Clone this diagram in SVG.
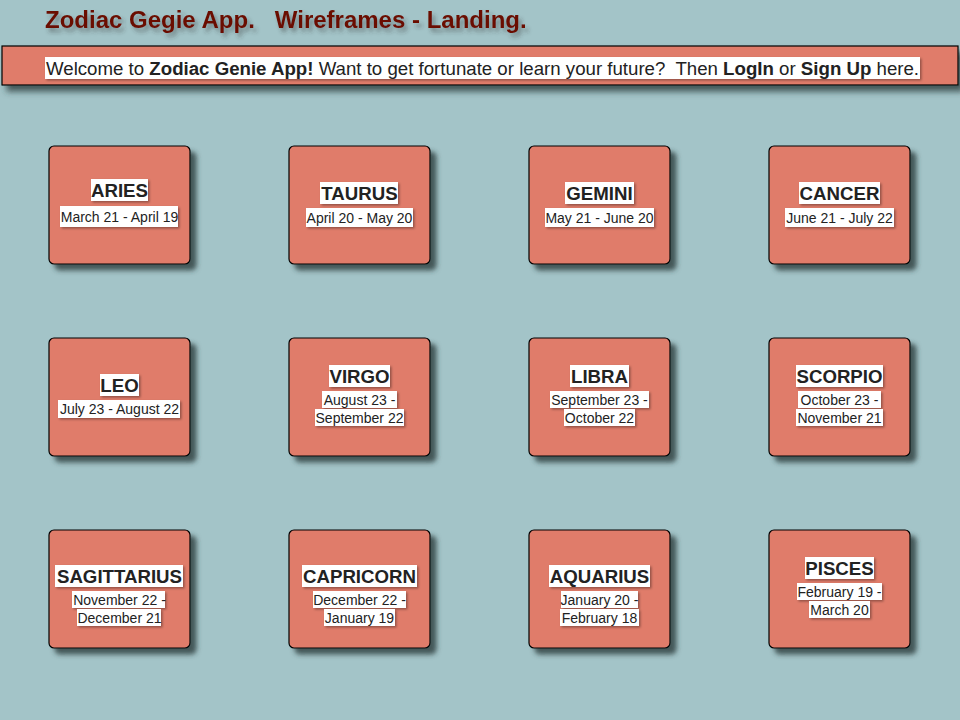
<svg xmlns="http://www.w3.org/2000/svg" width="960" height="720" viewBox="0 0 960 720">
<defs>
<filter id="sh" x="-10%" y="-10%" width="130%" height="130%"><feDropShadow dx="6" dy="6" stdDeviation="2.5" flood-color="#2c3a3b" flood-opacity="0.8"/></filter>
<filter id="shb" x="-5%" y="-30%" width="110%" height="190%"><feDropShadow dx="5" dy="6" stdDeviation="3" flood-color="#2c3a3b" flood-opacity="0.8"/></filter>
<filter id="lsh" x="-10%" y="-20%" width="130%" height="150%"><feDropShadow dx="1.5" dy="1.5" stdDeviation="1" flood-color="#000" flood-opacity="0.35"/></filter>
<filter id="tsh" x="-5%" y="-30%" width="110%" height="180%"><feDropShadow dx="3" dy="4" stdDeviation="2" flood-color="#333" flood-opacity="0.45"/></filter>
</defs>
<style>
.tile{fill:#e07c6b;stroke:#000;stroke-width:1.2;filter:url(#sh)}
.lb{fill:#fff;filter:url(#lsh)}
.t{font-family:"Liberation Sans",Arial,sans-serif;font-size:18.67px;font-weight:bold;fill:#222;text-anchor:middle}
.d{font-family:"Liberation Sans",Arial,sans-serif;font-size:14px;fill:#222;text-anchor:middle}
</style>
<rect width="960" height="720" fill="#a3c4c8"/>
<text x="45" y="28" xml:space="preserve" font-family="'Liberation Sans',Arial,sans-serif" font-size="24" font-weight="bold" fill="#6b1005" filter="url(#tsh)">Zodiac Gegie App.   Wireframes - Landing.</text>
<g id="banner">
<rect x="2" y="46" width="956" height="39" fill="#e07c6b" stroke="#000" stroke-width="1.2" filter="url(#shb)"/>
<rect class="lb" x="45" y="57" width="875" height="22"/>
<text x="46" y="75" xml:space="preserve" font-family="'Liberation Sans',Arial,sans-serif" font-size="18.67" fill="#222">Welcome to <tspan font-weight="bold">Zodiac Genie App!</tspan> Want to get fortunate or learn your future?  Then <tspan font-weight="bold">LogIn</tspan> or <tspan font-weight="bold">Sign Up</tspan> here.</text>
</g>
<g id="aries"><rect class="tile" x="49" y="146" width="141" height="118" rx="5"/>
<rect class="lb" x="91" y="179" width="57" height="22"/><text class="t" x="119.5" y="196.5">ARIES</text>
<rect class="lb" x="60" y="206" width="118" height="21"/><text class="d" x="119.5" y="222">March 21 - April 19</text></g>
<g id="taurus"><rect class="tile" x="289" y="146" width="141" height="118" rx="5"/>
<rect class="lb" x="320" y="182" width="78" height="22"/><text class="t" x="359.5" y="199.5">TAURUS</text>
<rect class="lb" x="306" y="208" width="107" height="19"/><text class="d" x="359.5" y="222.5">April 20 - May 20</text></g>
<g id="gemini"><rect class="tile" x="529" y="146" width="141" height="118" rx="5"/>
<rect class="lb" x="565" y="182" width="69" height="22"/><text class="t" x="599.5" y="199.5">GEMINI</text>
<rect class="lb" x="545" y="208" width="109" height="19"/><text class="d" x="599.5" y="222.5">May 21 - June 20</text></g>
<g id="cancer"><rect class="tile" x="769" y="146" width="141" height="118" rx="5"/>
<rect class="lb" x="799" y="182" width="81" height="22"/><text class="t" x="839.5" y="199.5">CANCER</text>
<rect class="lb" x="785" y="208" width="109" height="19"/><text class="d" x="839.5" y="222.5">June 21 - July 22</text></g>
<g id="leo"><rect class="tile" x="49" y="338" width="141" height="118" rx="5"/>
<rect class="lb" x="100" y="374" width="39" height="22"/><text class="t" x="119.5" y="391.5">LEO</text>
<rect class="lb" x="58" y="400" width="122" height="18"/><text class="d" x="119.5" y="414">July 23 - August 22</text></g>
<g id="virgo"><rect class="tile" x="289" y="338" width="141" height="118" rx="5"/>
<rect class="lb" x="329" y="365" width="61" height="22"/><text class="t" x="359.5" y="382.5">VIRGO</text>
<rect class="lb" x="322" y="391" width="75" height="17"/><text class="d" x="359.5" y="404.5">August 23 -</text>
<rect class="lb" x="315" y="409" width="89" height="17"/><text class="d" x="359.5" y="422.5">September 22</text></g>
<g id="libra"><rect class="tile" x="529" y="338" width="141" height="118" rx="5"/>
<rect class="lb" x="570" y="365" width="59" height="22"/><text class="t" x="599.5" y="382.5">LIBRA</text>
<rect class="lb" x="550" y="391" width="99" height="17"/><text class="d" x="599.5" y="404.5">September 23 -</text>
<rect class="lb" x="564" y="409" width="71" height="17"/><text class="d" x="599.5" y="422.5">October 22</text></g>
<g id="scorpio"><rect class="tile" x="769" y="338" width="141" height="118" rx="5"/>
<rect class="lb" x="796" y="365" width="87" height="22"/><text class="t" x="839.5" y="382.5">SCORPIO</text>
<rect class="lb" x="798" y="391" width="83" height="17"/><text class="d" x="839.5" y="404.5">October 23 -</text>
<rect class="lb" x="796" y="409" width="87" height="17"/><text class="d" x="839.5" y="422.5">November 21</text></g>
<g id="sagittarius"><rect class="tile" x="49" y="530" width="141" height="118" rx="5"/>
<rect class="lb" x="55" y="565" width="128" height="22"/><text class="t" x="119.5" y="582.5">SAGITTARIUS</text>
<rect class="lb" x="72" y="591" width="93" height="17"/><text class="d" x="119.5" y="604.5">November 22 -</text>
<rect class="lb" x="77" y="609" width="84" height="17"/><text class="d" x="119.5" y="622.5">December 21</text></g>
<g id="capricorn"><rect class="tile" x="289" y="530" width="141" height="118" rx="5"/>
<rect class="lb" x="302" y="565" width="115" height="22"/><text class="t" x="359.5" y="582.5">CAPRICORN</text>
<rect class="lb" x="313" y="591" width="93" height="17"/><text class="d" x="359.5" y="604.5">December 22 -</text>
<rect class="lb" x="324" y="609" width="71" height="17"/><text class="d" x="359.5" y="622.5">January 19</text></g>
<g id="aquarius"><rect class="tile" x="529" y="530" width="141" height="118" rx="5"/>
<rect class="lb" x="549" y="565" width="101" height="22"/><text class="t" x="599.5" y="582.5">AQUARIUS</text>
<rect class="lb" x="561" y="591" width="77" height="17"/><text class="d" x="599.5" y="604.5">January 20 -</text>
<rect class="lb" x="560" y="609" width="79" height="17"/><text class="d" x="599.5" y="622.5">February 18</text></g>
<g id="pisces"><rect class="tile" x="769" y="530" width="141" height="118" rx="5"/>
<rect class="lb" x="805" y="557" width="69" height="22"/><text class="t" x="839.5" y="574.5">PISCES</text>
<rect class="lb" x="797" y="583" width="85" height="17"/><text class="d" x="839.5" y="596.5">February 19 -</text>
<rect class="lb" x="809" y="601" width="61" height="17"/><text class="d" x="839.5" y="614.5">March 20</text></g>
<g id="connectors"/>
</svg>
